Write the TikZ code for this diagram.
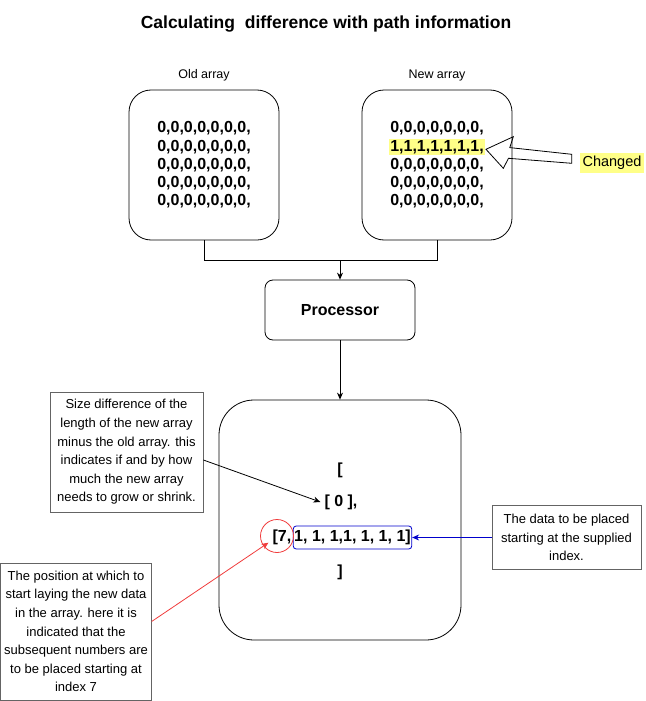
\documentclass[tikz,border=0pt]{standalone}
\usepackage{fontspec}
\setmainfont{Liberation Sans}
\usetikzlibrary{arrows.meta,positioning}
\definecolor{hlyellow}{RGB}{255,255,136}
\definecolor{noteline}{RGB}{100,100,100}
\definecolor{linkblue}{RGB}{0,0,204}
\definecolor{markred}{RGB}{240,60,60}
\setlength{\fboxsep}{1.5pt}

\begin{document}
\begin{tikzpicture}[x=1pt, y=-1pt,
	arraybox/.style={draw, rounded corners=22pt, minimum width=150pt, minimum height=150pt, line width=0.8pt},
	arraytext/.style={align=center, font=\fontsize{16}{18.3}\selectfont\bfseries, inner sep=0pt},
	notebox/.style={draw=noteline, fill=white, align=center, font=\fontsize{13}{18.6}\selectfont, line width=0.8pt},
	headtext/.style={font=\fontsize{12.5}{15}\selectfont},
	link/.style={-{Stealth[length=7pt,width=6pt]}, line width=0.8pt},
	]
	\useasboundingbox (0,0) rectangle (645,701);
	\node[font=\fontsize{17.5}{20}\selectfont\bfseries] (title) at (326,24) {Calculating\ \ difference with path information};

	% the two arrays
	\node[headtext] (oldtitle) at (204,75) {Old array};
	\node[headtext] (newtitle) at (437,75) {New array};
	\node[arraybox, arraytext] (oldarr) at (204,165) {0,0,0,0,0,0,0,\\0,0,0,0,0,0,0,\\0,0,0,0,0,0,0,\\0,0,0,0,0,0,0,\\0,0,0,0,0,0,0,};
	\node[arraybox, arraytext] (newarr) at (437,165) {0,0,0,0,0,0,0,\\\colorbox{hlyellow}{1,1,1,1,1,1,1,}\\0,0,0,0,0,0,0,\\0,0,0,0,0,0,0,\\0,0,0,0,0,0,0,};

	% changed marker
	\node[fill=hlyellow, inner xsep=2.5pt, inner ysep=3pt, font=\fontsize{14.5}{16}\selectfont] (changed) at (612,163) {Changed};
	\draw[line width=0.8pt] (486,149.3) -- (513.3,136.7) -- (509.8,147.6) -- (571.7,154.3) -- (571.7,163.3) -- (508.5,158.3) -- (503.3,168.3) -- cycle;

	% processor
	\node[draw, rounded corners=8pt, minimum width=150pt, minimum height=60pt, line width=0.8pt, font=\fontsize{16}{18}\selectfont\bfseries] (proc) at (340,310) {Processor};
	\draw[line width=0.8pt] (oldarr.south) -- ++(0,20) coordinate (joinleft) -| (newarr.south);
	\coordinate (merge) at (proc.north |- joinleft);
	\draw[link] (merge) -- (proc.north);

	% result
	\node[draw, rounded corners=35pt, minimum width=242pt, minimum height=240pt, line width=0.8pt] (result) at (340,520) {};
	\draw[link] (proc.south) -- (result.north);
	\node[arraytext] (openb) at (340,470) {[};
	\node[arraytext] (zero) at (341,502) {[ 0 ],};
	\node[arraytext] (seven) at (282,537) {[7,};
	\node[arraytext, draw=linkblue, rounded corners=3pt, inner xsep=1pt, minimum height=23pt, line width=0.8pt] (data) at (352.5,537.5) {1, 1, 1,1, 1, 1, 1]};
	\node[arraytext] (closeb) at (340,572) {]};
	\node[circle, draw=markred, minimum size=33pt, line width=0.8pt] (ring) at (277,536) {};

	% notes
	\node[notebox, minimum width=153pt, minimum height=120pt] (sizenote) at (126.5,452) {Size difference of the\\length of the new array\\minus the old array. this\\indicates if and by how\\much the new array\\needs to grow or shrink.};
	\node[notebox, minimum width=150pt, minimum height=137pt] (posnote) at (76,631.5) {The position at which to\\start laying the new data\\in the array. here it is\\indicated that the\\subsequent numbers are\\to be placed starting at\\index 7};
	\node[notebox, minimum width=149pt, minimum height=64pt] (datanote) at (566.5,537.5) {The data to be placed\\starting at the supplied\\index.};
	\draw[link] ([yshift=-8pt]sizenote.east) -- ([xshift=-4pt]zero.west);
	\draw[link, draw=markred] ([yshift=10pt]posnote.east) -- ([xshift=-4pt,yshift=2pt]seven.south west);
	\draw[link, draw=linkblue] (datanote.west) -- (data.east);
\end{tikzpicture}
\end{document}
